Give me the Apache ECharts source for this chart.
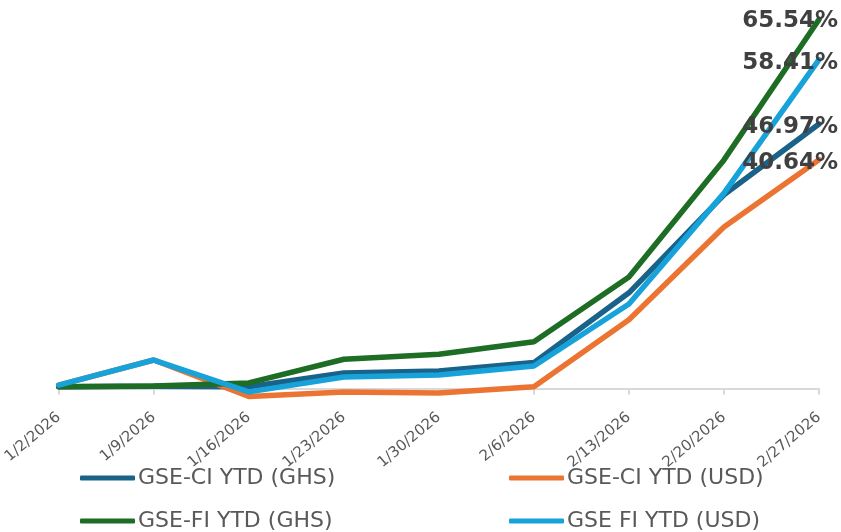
<!DOCTYPE html>
<html>
<head>
<meta charset="utf-8">
<script src="https://cdn.jsdelivr.net/npm/echarts@6/dist/echarts.min.js"></script>
<style>html,body{margin:0;padding:0;background:#fff}#c{width:841px;height:532px}</style>
</head>
<body>
<div id="c"></div>
<script>
const categories = ['1/2/2026','1/9/2026','1/16/2026','1/23/2026','1/30/2026','2/6/2026','2/13/2026','2/20/2026','2/27/2026'];
const seriesNames = ['GSE-CI YTD (GHS)','GSE-CI YTD (USD)','GSE-FI YTD (GHS)','GSE FI YTD (USD)'];
const ciGhs = [0.3, 0.4, 0.3, 2.75, 3.1, 4.6, 17.0, 34.4, 46.97];
const ciUsd = [0.6, 5.06, -1.4, -0.6, -0.8, 0.3, 12.2, 28.7, 40.64];
const fiGhs = [0.3, 0.45, 1.0, 5.2, 6.1, 8.3, 19.8, 40.6, 65.54];
const fiUsd = [0.6, 5.06, -0.6, 2.05, 2.4, 4.0, 15.0, 34.7, 58.41];
const colors = ['#1a6289', '#ec7433', '#1d6d25', '#17a2da'];

const values = [ciGhs, ciUsd, fiGhs, fiUsd];
const labelOffsetY = [3, 3, 2, 3];

const chart = echarts.init(document.getElementById('c'), null, {renderer: 'canvas'});
const series = values.map((arr, si) => ({
  name: seriesNames[si],
  type: 'line',
  color: colors[si],
  showSymbol: true,
  symbol: 'circle',
  symbolSize: 0,
  lineStyle: {width: 5.5, color: colors[si], cap: 'round', join: 'round'},
  itemStyle: {color: colors[si]},
  emphasis: {disabled: true},
  data: arr.map((v, i) => i === arr.length - 1 ? {
    value: v,
    label: {
      show: true,
      position: 'inside',
      align: 'right',
      verticalAlign: 'middle',
      offset: [19, labelOffsetY[si]],
      formatter: (p) => p.value.toFixed(2) + '%',
      fontFamily: 'DejaVu Sans',
      fontWeight: 'bold',
      fontSize: 23,
      color: '#404040'
    }
  } : v)
}));

chart.setOption({
  animation: false,
  backgroundColor: '#fff',
  grid: {left: 56, right: 22, top: 16.9, height: 388.5, containLabel: false},
  legend: [
    {
      data: [seriesNames[0], seriesNames[2]],
      orient: 'vertical', left: 80, top: 467, padding: 0, itemGap: 21,
      itemWidth: 55, itemHeight: 5, icon: 'roundRect',
      textStyle: {fontFamily: 'DejaVu Sans', fontSize: 22, color: '#595959', padding: [0, 0, 0, -2]}
    },
    {
      data: [seriesNames[1], seriesNames[3]],
      orient: 'vertical', left: 509, top: 467, padding: 0, itemGap: 21,
      itemWidth: 55, itemHeight: 5, icon: 'roundRect',
      textStyle: {fontFamily: 'DejaVu Sans', fontSize: 22, color: '#595959', padding: [0, 0, 0, -2]}
    }
  ],
  xAxis: {
    type: 'category',
    data: categories,
    boundaryGap: false,
    axisLine: {onZero: true, lineStyle: {color: '#d9d9d9', width: 2}},
    axisTick: {show: true, alignWithLabel: true, length: 6, lineStyle: {color: '#d9d9d9', width: 2}},
    axisLabel: {rotate: 40, fontFamily: 'DejaVu Sans', fontSize: 15, color: '#595959', margin: 10, interval: 0},
    splitLine: {show: false}
  },
  yAxis: {
    type: 'value',
    min: -3,
    max: 66,
    show: false,
    splitLine: {show: false}
  },
  series: series
});
</script>
</body>
</html>
